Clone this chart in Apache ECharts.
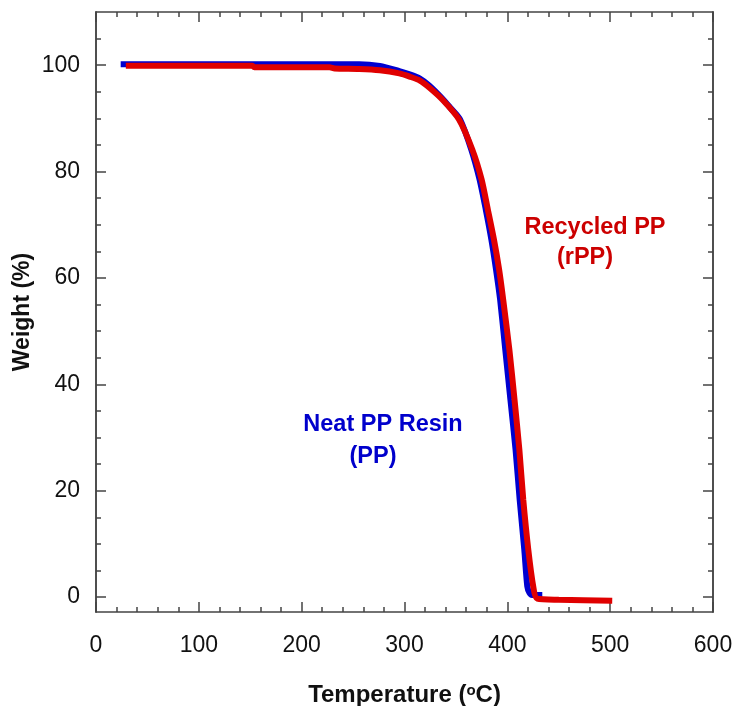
<!DOCTYPE html>
<html>
<head>
<meta charset="utf-8">
<script src="https://cdn.jsdelivr.net/npm/echarts@6/dist/echarts.min.js"></script>
<style>
  html, body { margin: 0; padding: 0; background: #fff; }
  #main { width: 735px; height: 706px; }
</style>
</head>
<body>
<div id="main"></div>
<script>
// TGA curves: [temperature °C, weight %]
var neatPP = [
  [24, 100.2], [120, 100.2], [200, 100.2], [256, 100.2], [276, 99.85], [295, 98.9],
  [305, 98.3], [315, 97.5], [324, 96.2], [337, 93.7], [345, 91.9], [354, 89.8],
  [365, 84.1], [373, 78.5], [379, 72.9], [384.5, 67.2], [389, 61.6], [393, 55.9],
  [398, 46.5], [403, 37.1], [408, 27.7], [412, 18.3], [416.5, 8.9], [419.4, 2.0],
  [421.5, 0.8], [424, 0.4], [434, 0.4]
];
var recycledPP = [
  [29, 99.9], [152, 99.9], [154, 99.6], [227, 99.6], [232, 99.4], [256, 99.3],
  [276, 99.05], [295, 98.45], [305, 97.85], [315, 97.1], [324, 95.8], [337, 93.5],
  [353, 89.8], [366, 84.1], [375, 78.5], [381, 72.9], [387, 67.2], [392, 61.6],
  [396, 55.9], [402, 46.5], [407, 37.1], [411.7, 27.7], [415.5, 18.3], [420.4, 8.9],
  [425.2, 2.0], [429, -0.3], [450, -0.5], [502, -0.7]
];

var yMajorTicks = [0, 20, 40, 60, 80, 100];
var yMinorTicks = [5, 10, 15, 25, 30, 35, 45, 50, 55, 65, 70, 75, 85, 90, 95, 105];

var chart = echarts.init(document.getElementById('main'));

var axisLineStyle = { color: '#444', width: 1.5 };
var fontFam = 'Arial, "Liberation Sans", sans-serif';

function yAx(pos, ticks, len, showLabel) {
  return {
    type: 'value', position: pos, min: -2.8, max: 110,
    axisLine: { show: true, onZero: false, lineStyle: axisLineStyle },
    axisTick: { show: true, inside: true, length: len, customValues: ticks, lineStyle: axisLineStyle },
    axisLabel: showLabel
      ? { show: true, customValues: ticks, margin: 16, fontSize: 23, color: '#111', fontFamily: fontFam }
      : { show: false },
    splitLine: { show: false }
  };
}

function xAx(pos, showLabel) {
  return {
    type: 'value', position: pos, min: 0, max: 600, interval: 100,
    axisLine: { show: true, onZero: false, lineStyle: axisLineStyle },
    axisTick: { show: true, inside: true, length: 10, lineStyle: axisLineStyle },
    minorTick: { show: true, splitNumber: 5, length: 5, lineStyle: axisLineStyle },
    axisLabel: showLabel
      ? { show: true, margin: 22, fontSize: 23, color: '#111', fontFamily: fontFam }
      : { show: false },
    splitLine: { show: false }
  };
}

var xBottom = xAx('bottom', true);
xBottom.name = 'Temperature ({sup|o}C)';
xBottom.nameLocation = 'middle';
xBottom.nameGap = 71;
xBottom.nameMoveOverlap = false;
xBottom.nameTextStyle = {
  fontSize: 24, fontWeight: 'bold', color: '#111', fontFamily: fontFam,
  rich: { sup: { fontSize: 15, fontWeight: 'bold', color: '#111', fontFamily: fontFam, verticalAlign: 'top', padding: [0, 0, 10, 0] } }
};

var yLeft = yAx('left', yMajorTicks, 10, true);
yLeft.name = 'Weight (%)';
yLeft.nameLocation = 'middle';
yLeft.nameGap = 62;
yLeft.nameMoveOverlap = false;
yLeft.nameTextStyle = { fontSize: 23, fontWeight: 'bold', color: '#111', fontFamily: fontFam };

var option = {
  animation: false,
  grid: { left: 96, right: 22, top: 12, bottom: 94, outerBoundsMode: 'none' },
  xAxis: [xBottom, xAx('top', false)],
  yAxis: [
    yLeft,
    yAx('left', yMinorTicks, 5, false),
    yAx('right', yMajorTicks, 10, false),
    yAx('right', yMinorTicks, 5, false)
  ],
  series: [{
    name: 'Neat PP Resin (PP)',
    type: 'line',
    data: neatPP,
    showSymbol: false,
    smooth: 0.25,
    lineStyle: { color: '#0000d0', width: 6 },
    z: 2
  }, {
    name: 'Recycled PP (rPP)',
    type: 'line',
    data: recycledPP,
    showSymbol: false,
    smooth: 0.25,
    lineStyle: { color: '#e00000', width: 6 },
    z: 3
  }],
  graphic: [
    { type: 'text', x: 595, y: 228, style: { text: 'Recycled PP', fill: '#cc0000', font: 'bold 23.5px ' + fontFam, textAlign: 'center', textVerticalAlign: 'middle' } },
    { type: 'text', x: 585, y: 258, style: { text: '(rPP)', fill: '#cc0000', font: 'bold 23.5px ' + fontFam, textAlign: 'center', textVerticalAlign: 'middle' } },
    { type: 'text', x: 383, y: 425, style: { text: 'Neat PP Resin', fill: '#0000cc', font: 'bold 23.5px ' + fontFam, textAlign: 'center', textVerticalAlign: 'middle' } },
    { type: 'text', x: 373, y: 457, style: { text: '(PP)', fill: '#0000cc', font: 'bold 23.5px ' + fontFam, textAlign: 'center', textVerticalAlign: 'middle' } }
  ]
};

chart.setOption(option);
</script>
</body>
</html>
